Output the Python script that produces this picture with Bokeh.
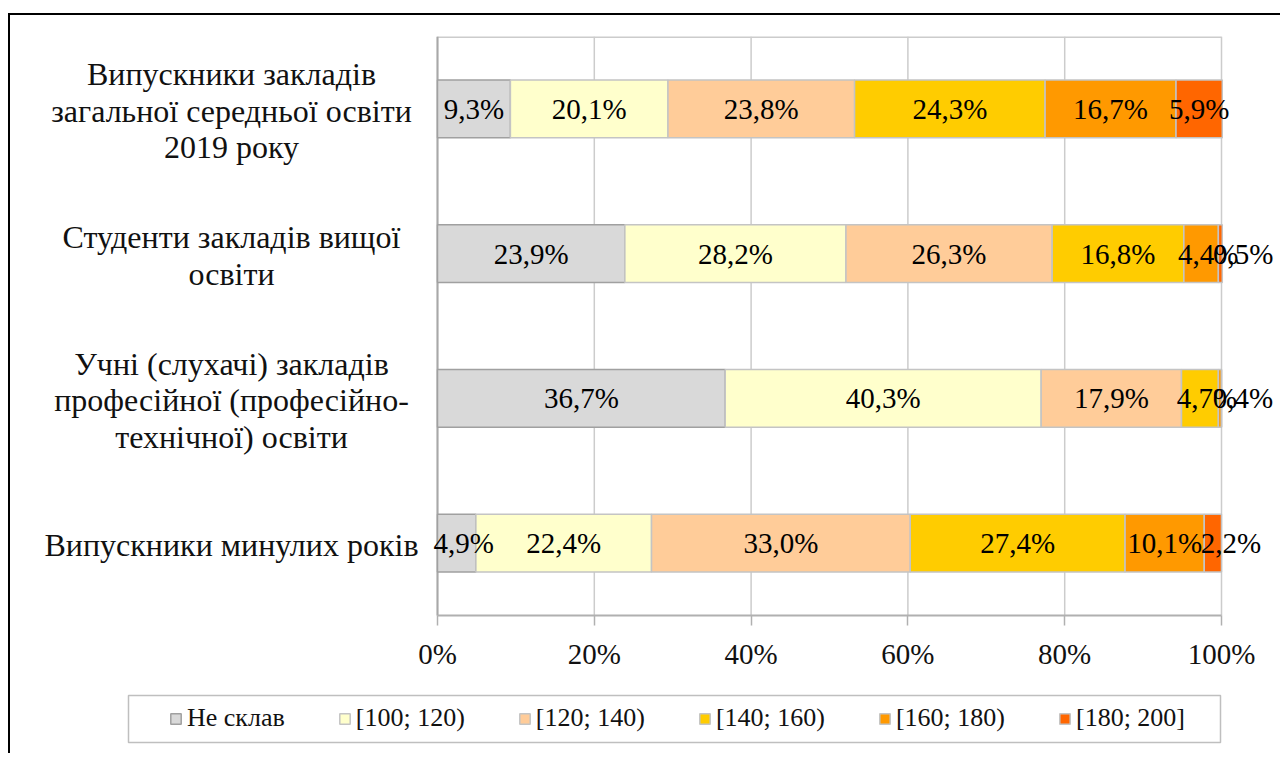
from bokeh.plotting import figure
from bokeh.models import (ColumnDataSource, Range1d, Legend, LegendItem, FixedTicker,
                          PrintfTickFormatter)
from bokeh.core.properties import value
from bokeh.embed import file_html
from bokeh.resources import INLINE

categories = [
    "Випускники закладів загальної середньої освіти 2019 року",
    "Студенти закладів вищої освіти",
    "Учні (слухачі) закладів професійної (професійно-технічної) освіти",
    "Випускники минулих років",
]
category_lines = [
    "Випускники закладів\nзагальної середньої освіти\n2019 року",
    "Студенти закладів вищої\nосвіти",
    "Учні (слухачі) закладів\nпрофесійної (професійно-\nтехнічної) освіти",
    "Випускники минулих років",
]
series = ["Не склав", "[100; 120)", "[120; 140)", "[140; 160)", "[160; 180)", "[180; 200]"]
ne_sklav = [9.3, 23.9, 36.7, 4.9]
s100_120 = [20.1, 28.2, 40.3, 22.4]
s120_140 = [23.8, 26.3, 17.9, 33.0]
s140_160 = [24.3, 16.8, 4.7, 27.4]
s160_180 = [16.7, 4.4, 0.4, 10.1]
s180_200 = [5.9, 0.5, 0.0, 2.2]
x_ticks = [0, 20, 40, 60, 80, 100]

values = [ne_sklav, s100_120, s120_140, s140_160, s160_180, s180_200]
keys = ["s%d" % i for i in range(len(series))]
colors = ["#D9D9D9", "#FFFFCC", "#FFCC99", "#FFCC00", "#FF9900", "#FF6600"]
line_colors = ["#A0A0A0", "#C4C4C4", "#C4C4C4", "#C4C4C4", "#C4C4C4", "#C4C4C4"]
FONT = "Liberation Serif"

# layout geometry (pixels)
LBL_W = 417     # frame left -> 0 %
PLOT_W = 784    # 0 % -> 100 %
RIGHT_W = 54    # 100 % -> frame right
PLOT_H = 579    # bar area height
BELOW_H = 135   # axis bottom -> frame bottom (tick labels + legend)
px = 100.0 / PLOT_W
n = len(categories)
yu = n / float(PLOT_H)
ypos = [n - 0.5 - i for i in range(n)]

data = {"y": ypos}
for k, v in zip(keys, values):
    data[k] = v
src = ColumnDataSource(data)

p = figure(width=10 + LBL_W + PLOT_W + RIGHT_W + 7, height=740,
           x_range=Range1d(-LBL_W * px, 100 + RIGHT_W * px),
           y_range=Range1d(-BELOW_H * yu, n),
           output_backend="svg", toolbar_location=None,
           min_border_left=10, min_border_right=7, min_border_top=21, min_border_bottom=5)
p.styles = {"border-left": "2px solid #000000", "border-top": "2px solid #000000",
            "margin-top": "13px", "margin-left": "8px"}

# grid & frame lines
p.xgrid.grid_line_color = None
p.ygrid.grid_line_color = None
p.outline_line_color = None
p.segment(x0=x_ticks, y0=[0] * len(x_ticks), x1=x_ticks, y1=[n] * len(x_ticks),
          line_color="#CCCCCC", line_width=1.5)
p.segment(x0=[0], y0=[n], x1=[100], y1=[n], line_color="#CCCCCC", line_width=3)
p.segment(x0=[0], y0=[0], x1=[0], y1=[n], line_color="#A8A8A8", line_width=2)

renderers = p.hbar_stack(keys, y="y", height=0.4, source=src, fill_color=colors,
                         line_color=line_colors, line_width=1.5)

# data labels
lx, ly, lt, lo = [], [], [], []
for i in range(n):
    cum = 0.0
    for j in range(len(series)):
        v = values[j][i]
        if v > 0:
            lx.append(cum + v / 2.0)
            ly.append(ypos[i])
            lt.append(("%.1f" % v).replace(".", ",") + "%")
            lo.append(23 if v < 1 else (18 if v < 3 else (7 if v < 5 else 0)))
        cum += v
lab_src = ColumnDataSource(dict(x=lx, y=ly, text=lt, off=lo))
p.text(x="x", y="y", text="text", x_offset="off", source=lab_src,
       text_align="center", text_baseline="middle",
       text_font=value(FONT), text_font_size="29px", text_color="#000000")

# category labels (each line centred)
cx, cy, ct, co = [], [], [], []
for i, lbl in enumerate(category_lines):
    lines = lbl.split("\n")
    for k, line in enumerate(lines):
        cx.append(-206 * px)
        cy.append(ypos[i])
        ct.append(line)
        co.append((k - (len(lines) - 1) / 2.0) * 36.5 + 2)
cat_src = ColumnDataSource(dict(x=cx, y=cy, text=ct, off=co))
p.text(x="x", y="y", text="text", y_offset="off", source=cat_src,
       text_align="center", text_baseline="middle",
       text_font=value(FONT), text_font_size="32px", text_color="#111111")

# axes
p.yaxis.visible = False
p.xaxis.fixed_location = 0
p.xaxis.bounds = (0, 100)
p.xaxis.ticker = FixedTicker(ticks=x_ticks)
p.xaxis.formatter = PrintfTickFormatter(format="%d%%")
p.xaxis.major_label_text_font = FONT
p.xaxis.major_label_text_font_size = "29px"
p.xaxis.major_label_text_color = "#111111"
p.xaxis.major_tick_in = 0
p.xaxis.major_tick_out = 10
p.xaxis.major_tick_line_color = "#B0B0B0"
p.xaxis.major_tick_line_width = 1.5
p.xaxis.minor_tick_line_color = None
p.xaxis.axis_line_color = "#B0B0B0"
p.xaxis.axis_line_width = 2
p.xaxis.major_label_standoff = 12

# legend frame (page px 128..1220 x 695..742)
p.quad(left=[(128 - 437) * px], right=[(1220 - 437) * px],
       top=[(615 - 695) * yu], bottom=[(615 - 742) * yu],
       fill_color="#FFFFFF", line_color="#BFBFBF", line_width=1.5)

legend = Legend(items=[LegendItem(label=s, renderers=[r]) for s, r in zip(series, renderers)],
                orientation="horizontal", location=(149, 17),
                label_text_font=FONT, label_text_font_size="26px", label_text_color="#111111",
                glyph_width=13, glyph_height=13, label_standoff=5, spacing=53,
                padding=8, margin=0, border_line_color=None,
                background_fill_alpha=0)
p.add_layout(legend, "center")

open("out.html", "w").write(file_html(p, INLINE))
